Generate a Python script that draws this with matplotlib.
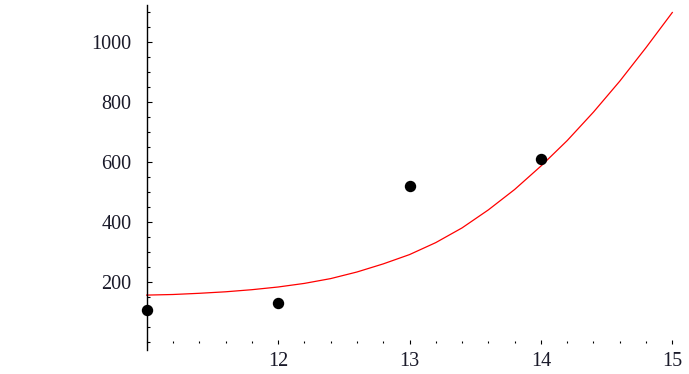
import matplotlib
matplotlib.use("Agg")
import matplotlib.pyplot as plt
from matplotlib.ticker import MultipleLocator, FixedLocator

# data points
pt_x = [11, 12, 13, 14]
pt_y = [106, 128, 519, 610]

# fitted curve
curve_x = [11.0, 11.2, 11.4, 11.6, 11.8, 12.0, 12.2, 12.4, 12.6, 12.8, 13.0,
           13.2, 13.4, 13.6, 13.8, 14.0, 14.2, 14.4, 14.6, 14.8, 15.0]
curve_y = [155, 157, 161, 166, 173, 182, 194, 210, 232, 259, 290,
           330, 379, 439, 507, 585, 670, 765, 868, 980, 1097]

x_major = [12, 13, 14, 15]
y_major = [200, 400, 600, 800, 1000]

W, H = 689, 374
fig = plt.figure(figsize=(W / 100, H / 100), dpi=100)
x0, x1 = 146.7, 672.3
ax = fig.add_axes([x0 / W, (H - 350) / H, (x1 - x0) / W, 345 / H])
ax.set_xlim(11, 15)
ax.set_ylim(-28, 1122)

ax.plot(curve_x, curve_y, color="red", lw=0.9, clip_on=False, zorder=2)
ax.plot(pt_x, pt_y, "o", color="black", ms=7.2, clip_on=False, zorder=3)

for s in ["top", "right"]:
    ax.spines[s].set_visible(False)
ax.spines["left"].set_linewidth(1.0)
ax.spines["bottom"].set_position(("data", 0))
ax.spines["bottom"].set_visible(False)

ax.xaxis.set_major_locator(FixedLocator(x_major))
ax.xaxis.set_minor_locator(MultipleLocator(0.2))
ax.yaxis.set_major_locator(FixedLocator(y_major))
ax.yaxis.set_minor_locator(MultipleLocator(50))

ax.tick_params(axis="x", which="major", direction="inout", length=3, width=0.8, pad=6)
ax.tick_params(axis="x", which="minor", direction="inout", length=1.5, width=0.8)
ax.tick_params(axis="y", which="major", direction="in", length=3.5, width=0.8, pad=11)
ax.tick_params(axis="y", which="minor", direction="in", length=2, width=0.8)

for lab in ax.get_xticklabels() + ax.get_yticklabels():
    lab.set_fontfamily("Liberation Serif")
    lab.set_fontsize(14.5)
    lab.set_color("#1a1a2a")

fig.savefig("out.png", dpi=100)
